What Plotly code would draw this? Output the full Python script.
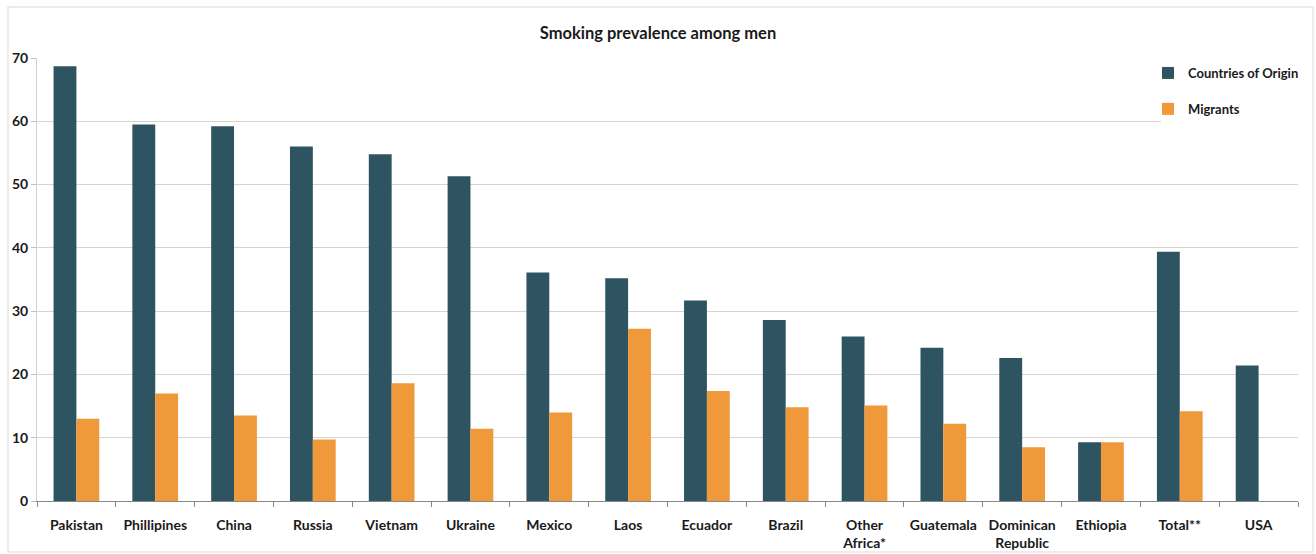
import plotly.graph_objects as go

categories = ["Pakistan", "Phillipines", "China", "Russia", "Vietnam", "Ukraine",
              "Mexico", "Laos", "Ecuador", "Brazil", "Other<br>Africa*", "Guatemala",
              "Dominican<br>Republic", "Ethiopia", "Total**", "USA"]
origin = [68.7, 59.5, 59.2, 56.0, 54.8, 51.3, 36.1, 35.2, 31.7, 28.6, 26.0, 24.2, 22.6, 9.3, 39.4, 21.4]
migrants = [13.0, 17.0, 13.5, 9.7, 18.6, 11.4, 14.0, 27.2, 17.4, 14.8, 15.1, 12.2, 8.5, 9.3, 14.2, None]
y_ticks = [0, 10, 20, 30, 40, 50, 60, 70]

DARK = "#2f5461"
ORANGE = "#f0993a"
FONT = "Lato"
TEXT = "#1a1a1a"

# plot area in pixels
L, R, T, B = 37, 1298, 58, 501
PW, PH = R - L, B - T

fig = go.Figure()
fig.add_trace(go.Bar(name="Countries of Origin", x=categories, y=origin,
                     marker=dict(color=DARK, line=dict(width=0)),
                     legendgroup="a"))
fig.add_trace(go.Bar(name="Migrants", x=categories, y=migrants,
                     marker=dict(color=ORANGE, line=dict(width=0)),
                     legendgroup="b"))

fig.update_layout(
    width=1316, height=554,
    margin=dict(l=L, r=1316 - R, t=T, b=554 - B, autoexpand=False),
    paper_bgcolor="white", plot_bgcolor="white",
    barmode="group", bargap=0.42, bargroupgap=0,
    font=dict(family=FONT, size=12, color=TEXT),
    title=dict(text="Smoking prevalence among men", x=0.5, xanchor="center",
               y=1 - 33 / 554, yanchor="middle",
               font=dict(family=FONT, size=16.5, color=TEXT, weight="bold")),
    legend=dict(x=(1148 - L) / PW, xanchor="left",
                y=1.0, yanchor="top",
                bgcolor="rgba(0,0,0,0)", borderwidth=0,
                font=dict(family=FONT, size=13, color=TEXT, weight="bold"),
                tracegroupgap=16, traceorder="grouped",
                itemwidth=30),
    showlegend=True,
)

fig.update_yaxes(range=[0, 70], tickvals=y_ticks, showgrid=True,
                 gridcolor="#d8d3cf", gridwidth=1,
                 showline=True, linecolor="#d0d0d0", linewidth=1,
                 ticks="outside", ticklen=5, tickcolor="#c0c0c0",
                 tickfont=dict(family=FONT, size=14, color=TEXT, weight="bold"),
                 zeroline=False, automargin=False)
fig.update_xaxes(showline=True, linecolor="#888888", linewidth=1,
                 ticks="outside", ticklen=5, tickcolor="#888888",
                 tickson="boundaries", ticklabelstandoff=11, tickangle=0,
                 tickfont=dict(family=FONT, size=14, color=TEXT, weight="bold"),
                 automargin=False)

# white panel behind the legend hides the top gridlines there
fig.add_shape(type="rect", xref="paper", yref="y",
              x0=(1161 - L) / PW, x1=1.0, y0=56, y1=72,
              line=dict(width=0), fillcolor="white", layer="above")

# light frame around the whole chart
fig.add_shape(type="rect", xref="paper", yref="paper",
              x0=(8 - L) / PW, x1=(1313 - L) / PW,
              y0=-(552 - B) / PH, y1=1 + (T - 7) / PH,
              line=dict(color="#e6e6e6", width=1.5), fillcolor="rgba(0,0,0,0)",
              layer="below")

fig.write_html("out.html")
